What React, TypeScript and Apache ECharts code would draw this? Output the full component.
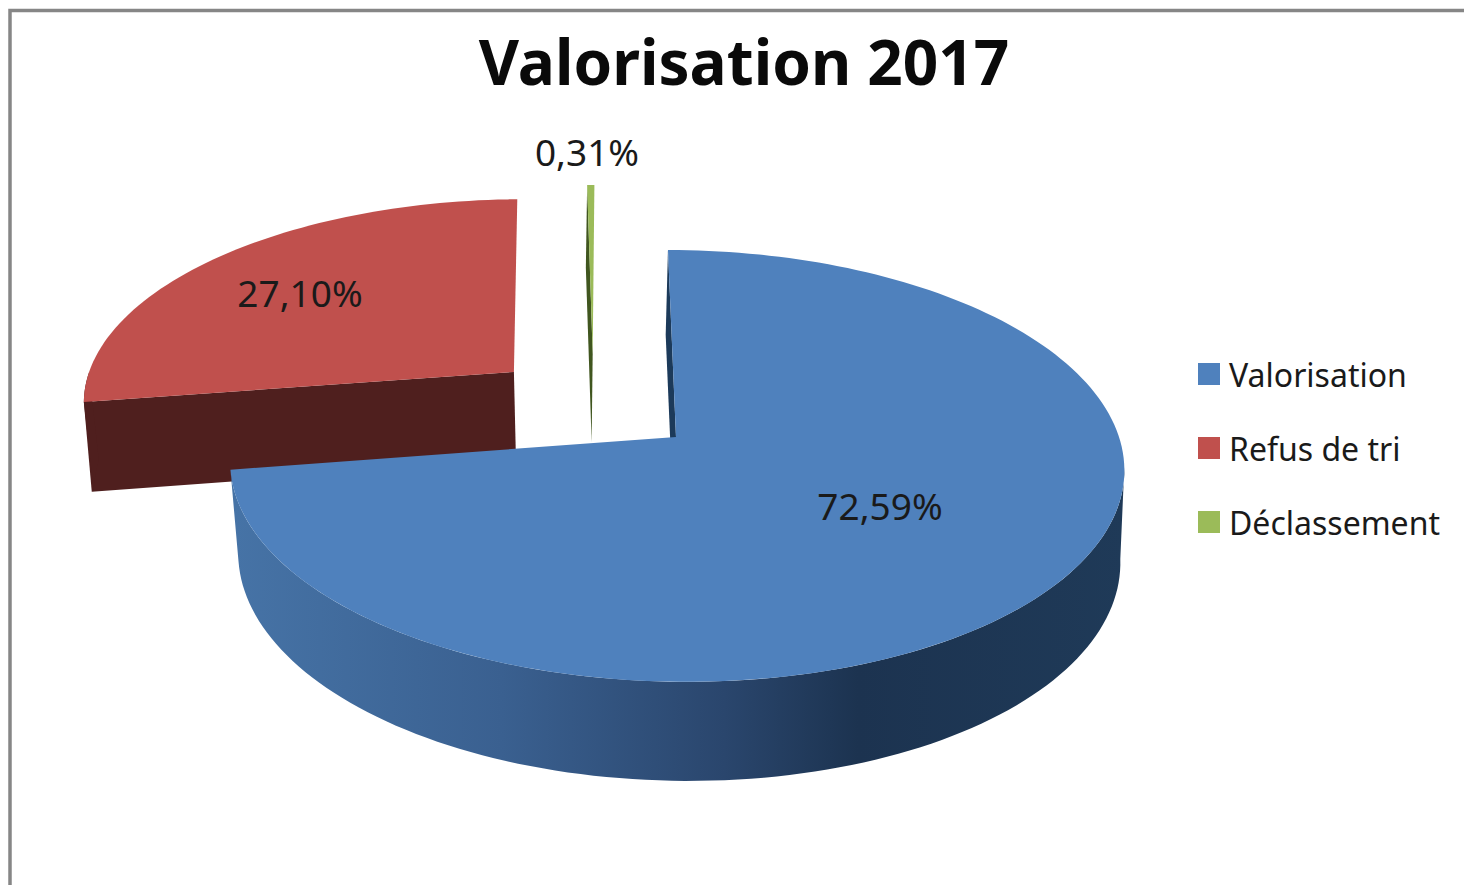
import React, { useEffect, useRef } from "react";
import * as echarts from "echarts";

const TITLE = "Valorisation 2017";
const CATEGORIES = ["Valorisation", "Refus de tri", "Déclassement"];
const VALUES = [72.59, 27.1, 0.31];
const LABELS = ["72,59%", "27,10%", "0,31%"];

// presentation only
const TOP_COLORS = ["#4f81bd", "#c0504d", "#9bbb59"];
const WALL_COLORS = ["#1c3a5a", "#4f1f1e", "#40561f"];
const EXPLODE: [number, number][] = [[0, 0], [-0.375, 0.32], [-0.19, 0.414]];
const LABEL_POS: [number, number][] = [[880, 505], [300, 292], [587, 151]];
const RADIAL_DX = [-2, 0, -2];
const SERIES_Z = [5, 3, 3];
const START_DEG = 0;
const FONT = "'Noto Sans', sans-serif";

const CX = 676, CY = 437, K = 0.134, SHEAR = 0.043;
const TOP_PLANE = { a: 443, b: 212, dy: 0, dx: 0 };
const BASE_PLANE = { a: 437, b: 219, dy: 91, dx: 2 };

type Plane = typeof TOP_PLANE;
const project = (p: Plane, u: number, v: number): [number, number] => {
  const w = 1 + K * v;
  const ry = -(p.b * v) / w;
  return [CX + p.dx + (p.a * u) / w + SHEAR * ry, CY + p.dy + ry];
};
const total = VALUES.reduce((s, x) => s + x, 0);

const rad = (d: number) => (d * Math.PI) / 180;
const rimPoint = (p: Plane, idx: number, deg: number) =>
  project(p, EXPLODE[idx][0] + Math.sin(rad(deg)), EXPLODE[idx][1] + Math.cos(rad(deg)));
const apex = (p: Plane, idx: number) => project(p, EXPLODE[idx][0], EXPLODE[idx][1]);
const rim = (p: Plane, idx: number, from: number, to: number) => {
  const n = Math.max(4, Math.ceil(Math.abs(to - from) / 1.5));
  const out: [number, number][] = [];
  for (let i = 0; i <= n; i++) out.push(rimPoint(p, idx, from + ((to - from) * i) / n));
  return out;
};

const blueWall = new echarts.graphic.LinearGradient(
  235, 0, 1125, 0,
  [
    { offset: 0, color: "#4673a6" },
    { offset: 0.3, color: "#3a6090" },
    { offset: 0.55, color: "#2a466d" },
    { offset: 0.7, color: "#1c3350" },
    { offset: 1, color: "#1f3a58" },
  ],
  true
);

function makeSlice(idx: number) {
  return (_params: any, api: any) => {
    const value = api.value(0) as number;
    const before = VALUES.slice(0, idx).reduce((s, x) => s + x, 0);
    const start = START_DEG + (before / total) * 360;
    const end = start + (value / total) * 360;
    const TA = apex(TOP_PLANE, idx);
    const radialBase = { ...BASE_PLANE, dx: RADIAL_DX[idx] };
    const BA = apex(radialBase, idx);
    const children: any[] = [];

    // radial wall on the leading side (the only one facing the viewer)
    children.push({
      type: "polygon",
      z2: 1,
      shape: { points: [TA, rimPoint(TOP_PLANE, idx, start), rimPoint(radialBase, idx, start), BA] },
      style: { fill: WALL_COLORS[idx] },
    });
    // outer wall
    const wallFrom = Math.max(start, 98);
    const wallTo = Math.min(end, 270);
    if (wallTo > wallFrom) {
      const pts = [...rim(TOP_PLANE, idx, wallFrom, wallTo), ...rim(BASE_PLANE, idx, wallFrom, wallTo).reverse()];
      children.push({ type: "polygon", z2: 2, shape: { points: pts }, style: { fill: idx === 0 ? blueWall : WALL_COLORS[idx] } });
    }
    // top face
    children.push({
      type: "polygon",
      z2: 3,
      shape: { points: [TA, ...rim(TOP_PLANE, idx, start, end)] },
      style: { fill: TOP_COLORS[idx] },
    });
    // label
    children.push({
      type: "text",
      z2: 4,
      x: LABEL_POS[idx][0],
      y: LABEL_POS[idx][1],
      style: {
        text: LABELS[idx],
        fill: "#1a1a1a",
        font: `400 37px ${FONT}`,
        textAlign: "center",
        textVerticalAlign: "middle",
      },
    });
    return { type: "group", children };
  };
}

export default function App() {
  const ref = useRef<HTMLDivElement>(null);
  useEffect(() => {
    document.body.style.margin = "0";
    const chart = echarts.init(ref.current!, null, { renderer: "svg" });
    chart.setOption({
      animation: false,
      backgroundColor: "#ffffff",
      title: {
        text: TITLE,
        left: 739,
        top: 25,
        textAlign: "center",
        textStyle: { fontFamily: FONT, fontSize: 62, fontWeight: 700, color: "#0a0a0a" },
      },
      legend: {
        data: CATEGORIES,
        orient: "vertical",
        left: 1193,
        top: 353,
        icon: "rect",
        itemWidth: 22,
        itemHeight: 22,
        itemGap: 42,
        selectedMode: false,
        textStyle: { fontFamily: FONT, fontSize: 32, color: "#1a1a1a", padding: [0, 0, 0, 4] },
      },
      graphic: [
        {
          type: "rect",
          z: 0,
          silent: true,
          shape: { x: 10, y: 10.5, width: 1600, height: 1000 },
          style: { fill: "none", stroke: "#868686", lineWidth: 3.5 },
        },
      ],
      series: CATEGORIES.map((name, idx) => ({
        type: "custom",
        name,
        coordinateSystem: "none",
        z: SERIES_Z[idx],
        itemStyle: { color: TOP_COLORS[idx] },
        data: [[VALUES[idx]]],
        renderItem: makeSlice(idx),
      })),
    });
    return () => chart.dispose();
  }, []);
  return <div ref={ref} style={{ position: "absolute", left: 0, top: 0, width: 1464, height: 885 }} />;
}
